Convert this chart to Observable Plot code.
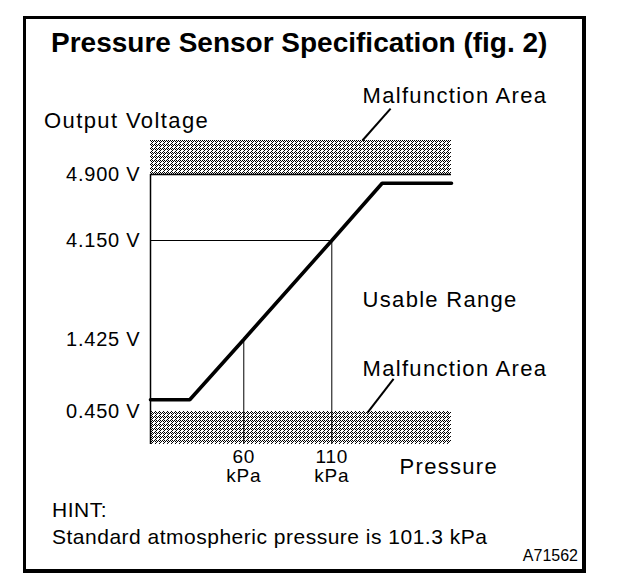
<!DOCTYPE html>
<html>
<head>
<meta charset="utf-8">
<script src="https://cdn.jsdelivr.net/npm/d3@7"></script>
<script src="https://cdn.jsdelivr.net/npm/@observablehq/plot@0.6"></script>
<style>
  html, body { margin: 0; padding: 0; background: #fff; }
  #root { position: relative; width: 624px; height: 586px; background: #fff; overflow: hidden;
          font-family: "Liberation Sans", Arial, Helvetica, sans-serif; color: #000; }
  #box { position: absolute; left: 23px; top: 16px; width: 563px; height: 557px; box-sizing: border-box;
         border: 3px solid #000; border-right-width: 4px; border-bottom-width: 4px; }
  #chart { position: absolute; left: 0; top: 0; }
  .t { position: absolute; line-height: 1; white-space: nowrap; }
  #title { left: 51px; top: 29px; font-size: 28px; font-weight: bold; }
  #ylabel { left: 44px; top: 109.5px; font-size: 22px; letter-spacing: 1.4px; }
  #hint1 { left: 52px; top: 499px; font-size: 21px; letter-spacing: 0.5px; }
  #hint2 { left: 52px; top: 526px; font-size: 21px; letter-spacing: 0.5px; }
  #code { right: 46px; top: 548px; font-size: 16px; }
</style>
</head>
<body>
<div id="root">
  <div id="chart"></div>
  <div id="box"></div>
  <div class="t" id="title">Pressure Sensor Specification (fig. 2)</div>
  <div class="t" id="ylabel">Output Voltage</div>
  <div class="t" id="hint1">HINT:</div>
  <div class="t" id="hint2">Standard atmospheric pressure is 101.3 kPa</div>
  <div class="t" id="code">A71562</div>
</div>
<script>
// ---- data ----
// sensor characteristic: pressure (kPa) vs output voltage (V)
const pressure = [7, 29.3, 60, 110, 138.6, 178];
const voltage  = [0.61, 0.61, 1.425, 4.15, 4.80, 4.80];

// labelled voltage ticks and pressure ticks
const voltTicks = [0.45, 1.425, 4.15, 4.9];
const kPaTicks = [60, 110];

// schematic (non-linear) voltage axis: break points and their drawn heights (axis units)
const voltBreaks = [0, 0.45, 1.425, 4.15, 4.9, 5.0];
const breakHeights = [0, 33, 105, 204, 270, 304];

// pressure extent of the drawing
const pMin = 7, pMax = 178;

// malfunction areas (V)
const malfunctionLow = [0, 0.45];
const malfunctionHigh = [4.9, 5.0];

// annotation labels (kPa, V)
const labelText = ["Malfunction Area", "Usable Range", "Malfunction Area", "Pressure"];
const labelKPa  = [127.5, 127.5, 127.5, 148.5];
const labelVolt = [5.109, 2.306, 0.937, -0.409];

// leader lines (kPa, V)
const leaderX1 = [127.4, 130.3];
const leaderY1 = [5.0, 0.436];
const leaderX2 = [143.4, 145.1];
const leaderY2 = [5.094, 0.893];

// ---- build tables ----
const curve = pressure.map((p, i) => ({p, v: voltage[i]}));
const bands = [malfunctionLow, malfunctionHigh].map(([v1, v2]) => ({x1: pMin, x2: pMax, v1, v2}));
const labels = labelText.map((text, i) => ({text, p: labelKPa[i], v: labelVolt[i]}));
const leaders = leaderX1.map((x1, i) => ({x1, y1: leaderY1[i], x2: leaderX2[i], y2: leaderY2[i]}));
const guideV = [{p: 60, v: 1.425}, {p: 110, v: 4.15}];

// piecewise-linear voltage transform (schematic axis, as in the original figure)
const schematic = d3.scaleLinear().domain(voltBreaks).range(breakHeights);

const plot = Plot.plot({
  width: 624,
  height: 586,
  marginLeft: 150,
  marginRight: 173,
  marginTop: 140,
  marginBottom: 142,
  style: {
    fontFamily: '"Liberation Sans", Arial, Helvetica, sans-serif',
    fontSize: "20px",
    background: "transparent",
    color: "#000",
    overflow: "visible"
  },
  x: {domain: [pMin, pMax], axis: null},
  y: {transform: schematic, domain: [breakHeights[0], breakHeights[breakHeights.length - 1]], axis: null},
  marks: [
    Plot.rect(bands, {x1: "x1", x2: "x2", y1: "v1", y2: "v2", fill: "url(#dots)"}),
    Plot.ruleY([malfunctionHigh[0]], {x1: pMin, x2: pMax, stroke: "#000", strokeWidth: 1.5}),
    Plot.ruleX([pMin], {y1: 0, y2: malfunctionHigh[0], stroke: "#000", strokeWidth: 1.5}),
    Plot.ruleX(guideV, {x: "p", y1: 0, y2: "v", stroke: "#000", strokeWidth: 1}),
    Plot.ruleY([guideV[1]], {y: "v", x1: pMin, x2: "p", stroke: "#000", strokeWidth: 1}),
    Plot.line(curve, {x: "p", y: "v", stroke: "#000", strokeWidth: 3.6, strokeLinejoin: "miter"}),
    Plot.link(leaders, {x1: "x1", y1: "y1", x2: "x2", y2: "y2", stroke: "#000", strokeWidth: 2}),
    Plot.text(labels, {x: "p", y: "v", text: "text", textAnchor: "start", lineAnchor: "bottom",
      fontSize: 22, fill: "#000", className: "anno"}),
    Plot.axisY(voltTicks, {tickSize: 0, tickPadding: 10, tickFormat: d => d.toFixed(3) + " V",
      fontSize: 20, label: null, fill: "#000"}),
    Plot.axisX(kPaTicks, {tickSize: 0, tickPadding: 5, tickFormat: d => `${d}\nkPa`,
      fontSize: 19, lineHeight: 1.0, label: null, fill: "#000"})
  ]
});

// dotted (dithered) fill pattern for malfunction areas
const svg = d3.select(plot);
const defs = svg.insert("defs", ":first-child");
const pat = defs.append("pattern").attr("id", "dots").attr("patternUnits", "userSpaceOnUse")
  .attr("width", 4).attr("height", 4);
pat.append("rect").attr("width", 4).attr("height", 4).attr("fill", "#fff");
const dotsPx = [[0,0],[2,0],[1,1],[0,2],[3,3],[3,1]];
dotsPx.forEach(([x, y]) => pat.append("rect").attr("x", x).attr("y", y).attr("width", 1).attr("height", 1)
  .attr("fill", "#000").attr("shape-rendering", "crispEdges"));
svg.selectAll("text").style("letter-spacing", "0.8px");
svg.selectAll("g.anno text").style("letter-spacing", "1.3px");

document.getElementById("chart").appendChild(plot);
</script>
</body>
</html>
